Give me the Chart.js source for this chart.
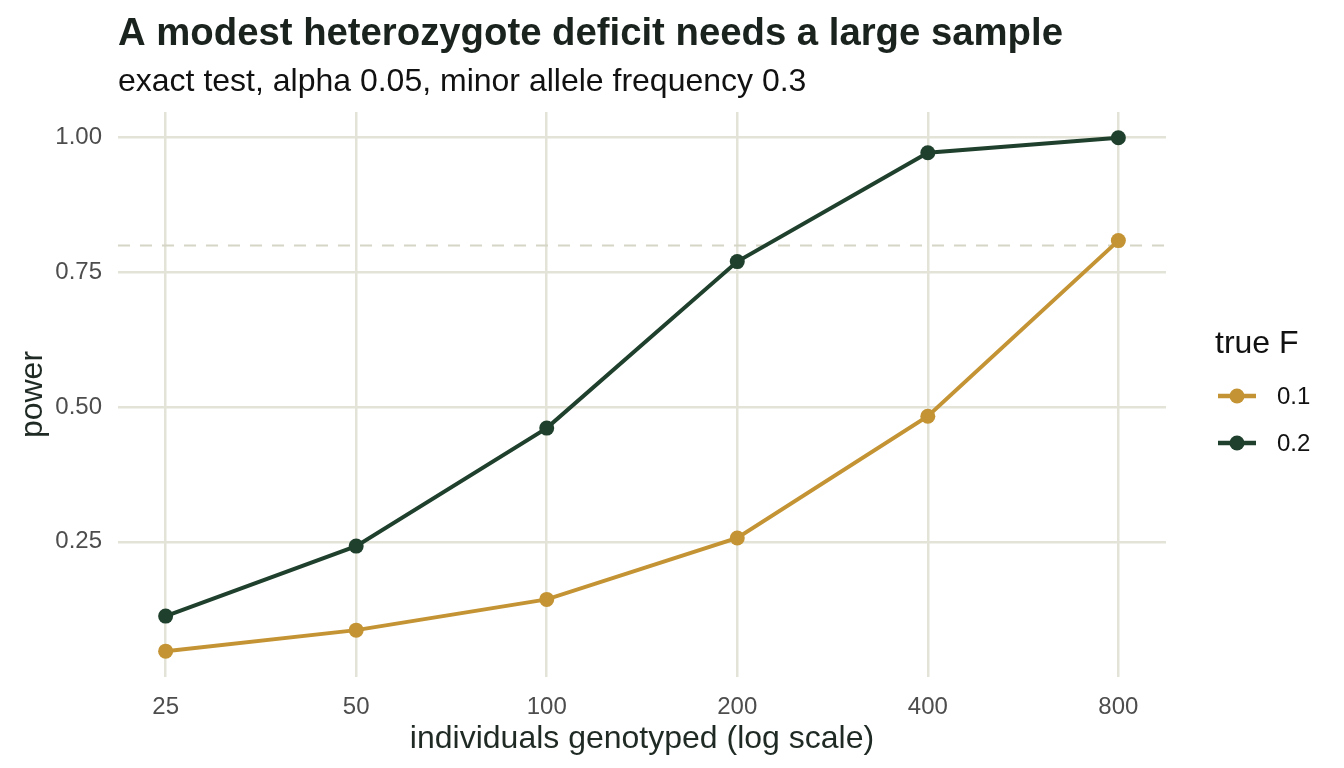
<!DOCTYPE html>
<html><head><meta charset="utf-8">
<script src="https://cdn.jsdelivr.net/npm/chart.js@4"></script>
<style>html,body{margin:0;padding:0;background:#fff}#wrap{width:1344px;height:768px;position:relative}</style>
</head><body><div id="wrap"><canvas id="c" width="1344" height="768"></canvas></div>
<script>
const sampleSizes = [25, 50, 100, 200, 400, 800];
const xTicks = [25, 50, 100, 200, 400, 800];
const yTicks = [0.25, 0.5, 0.75, 1.0];
const yTickLabels = ["0.25", "0.50", "0.75", "1.00"];
const seriesNames = ["0.1", "0.2"];
const powerF01 = [0.047, 0.086, 0.143, 0.257, 0.483, 0.809];
const powerF02 = [0.112, 0.242, 0.461, 0.770, 0.972, 1.000];
const targetPower = 0.8;
const colors = ["#C49434", "#1F402C"];

const titleText = "A modest heterozygote deficit needs a large sample";
const subtitleText = "exact test, alpha 0.05, minor allele frequency 0.3";
const FONT = "'Liberation Sans', Arial, sans-serif";

const toPts = arr => sampleSizes.map((x, i) => ({x: x, y: arr[i]}));

const extras = {
  id: 'extras',
  beforeDatasetsDraw(chart) {
    const {ctx, chartArea, scales} = chart;
    const y = scales.y.getPixelForValue(targetPower);
    ctx.save();
    ctx.strokeStyle = '#D6D6C6';
    ctx.lineWidth = 2;
    ctx.setLineDash([12, 10]);
    ctx.beginPath();
    ctx.moveTo(chartArea.left, y);
    ctx.lineTo(chartArea.right, y);
    ctx.stroke();
    ctx.restore();
  },
  afterDraw(chart) {
    const {ctx, chartArea} = chart;
    ctx.save();
    ctx.textBaseline = 'alphabetic';
    ctx.textAlign = 'left';
    ctx.fillStyle = '#1A231E';
    ctx.font = "bold 38.3px " + FONT;
    ctx.fillText(titleText, chartArea.left, 45);
    ctx.font = "32px " + FONT;
    ctx.fillStyle = '#111';
    ctx.fillText(subtitleText, chartArea.left, 91);
    // legend
    ctx.fillStyle = '#111';
    ctx.font = "32px " + FONT;
    ctx.fillText("true F", 1215, 353);
    ctx.font = "24px " + FONT;
    const ys = [396, 443];
    seriesNames.forEach((n, i) => {
      ctx.strokeStyle = colors[i];
      ctx.lineWidth = 4.5;
      ctx.beginPath();
      ctx.moveTo(1218, ys[i]);
      ctx.lineTo(1256, ys[i]);
      ctx.stroke();
      ctx.fillStyle = colors[i];
      ctx.beginPath();
      ctx.arc(1237, ys[i], 7.5, 0, Math.PI * 2);
      ctx.fill();
      ctx.fillStyle = '#111';
      ctx.textBaseline = 'middle';
      ctx.fillText(n, 1277, ys[i] + 1);
    });
    ctx.restore();
  }
};

new Chart(document.getElementById('c'), {
  type: 'line',
  data: {
    datasets: [
      {label: seriesNames[0], data: toPts(powerF01), borderColor: colors[0], backgroundColor: colors[0],
       borderWidth: 4, pointRadius: 7.5, pointBorderWidth: 0, tension: 0},
      {label: seriesNames[1], data: toPts(powerF02), borderColor: colors[1], backgroundColor: colors[1],
       borderWidth: 4, pointRadius: 7.5, pointBorderWidth: 0, tension: 0}
    ]
  },
  options: {
    responsive: false,
    animation: false,
    devicePixelRatio: 1,
    layout: {padding: {top: 112, right: 178, left: 0, bottom: 0}},
    plugins: {legend: {display: false}, title: {display: false}, tooltip: {enabled: false}},
    scales: {
      x: {
        type: 'logarithmic',
        min: 25 / Math.pow(2, 0.25),
        max: 800 * Math.pow(2, 0.25),
        afterBuildTicks: s => { s.ticks = xTicks.map(v => ({value: v})); },
        afterFit: s => { s.height = 768 - 677; },
        border: {display: false},
        grid: {color: '#E3E3D7', lineWidth: 2.5, drawTicks: false},
        ticks: {padding: 16, color: '#4D4D4D', font: {family: FONT, size: 24},
                callback: v => String(v), maxRotation: 0, autoSkip: false},
        title: {display: true, text: 'individuals genotyped (log scale)', color: '#1F2A24',
                font: {family: FONT, size: 32}, padding: {top: 4, bottom: 10}}
      },
      y: {
        min: -0.001,
        max: 1.0477,
        afterBuildTicks: s => { s.ticks = yTicks.map(v => ({value: v})); },
        afterFit: s => { s.width = 118; },
        border: {display: false},
        grid: {color: '#E3E3D7', lineWidth: 2.5, drawTicks: false},
        ticks: {padding: 16, color: '#4D4D4D', font: {family: FONT, size: 24},
                callback: v => yTickLabels[yTicks.indexOf(v)]},
        title: {display: true, text: 'power', color: '#1F2A24',
                font: {family: FONT, size: 32}, padding: {top: 14, bottom: 0}}
      }
    }
  },
  plugins: [extras]
});
</script></body></html>
